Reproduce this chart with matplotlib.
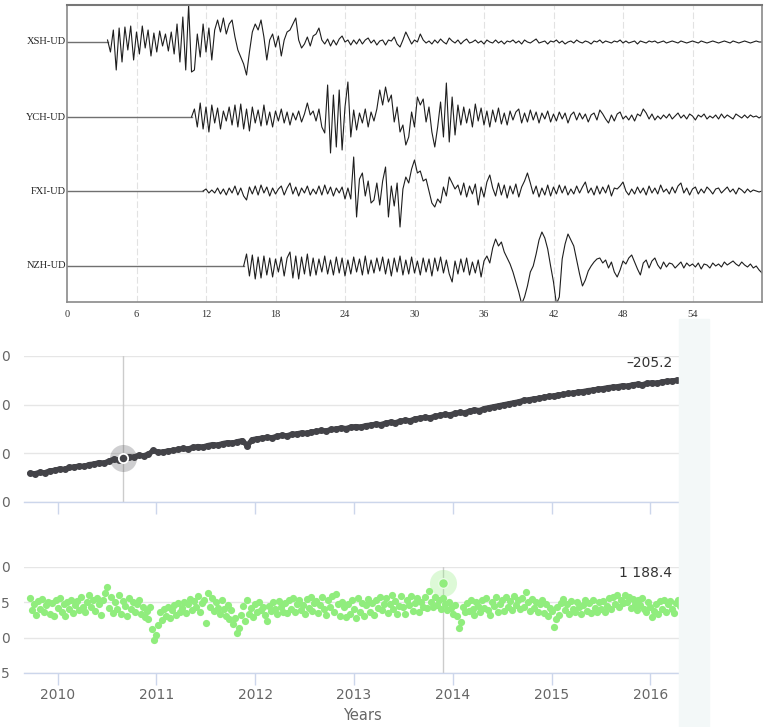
import numpy as np
import matplotlib
matplotlib.use("Agg")
import matplotlib.pyplot as plt
from matplotlib.patches import Rectangle

# ---------------- seismogram data (amplitudes in px) ----------------
dt = 0.25
stations = ["XSH-UD", "YCH-UD", "FXI-UD", "NZH-UD"]
baselines = [260, 185, 111, 36]          # trace centre lines
onsets = [3.5, 10.75, 11.75, 15.25]      # first arrival (s)

xsh = [2, -10, 12, -28, 14, -20, 15, -8,
       16, -18, 10, -12, 16, -6, 12, -14,
       9, -10, 11, -4, 8, -9, 10, -12,
       18, -20, 25, -28, 37, -30, -28, 8,
       -15, 18, -10, 14, -18, 12, 22, 10,
       24, 8, 18, 22, 5, -8, -15, -22,
       -33, -10, 10, 18, 12, 22, 5, -18,
       2, 8, -5, 6, -14, 2, 10, 12,
       18, 24, 2, -6, -2, 5, -4, 6,
       8, 14, 2, -2, 3, -4, 2, -3,
       3, 6, 0, 2, -3, 2, -2, 3,
       -2, 2, 4, -1, 2, -3, 1, 2,
       -3, 2, 1, 5, -2, -5, 2, 10,
       4, -2, 2, 0, 8, 2, -1, 1,
       -2, 2, -1, 3, 0, -2, 4, 1,
       -1, 2, -2, 1, 3, -1, 0, 2,
       -1, 1, -2, 2, 0, -1, 2, -1,
       1, -2, 1, 0, 2, -1, 1, -2,
       2, 0, -1, 1, 3, -1, 0, 1,
       -2, 1, 0, 2, -1, 1, -2, 0,
       1, -1, 2, 0, -1, 1, 0, -2,
       1, 0, 2, -1, 1, 0, -1, 1,
       0, 2, -1, 1, -1, 0, 1, -2,
       1, 0, -1, 1, 0, 1, -1, 0,
       1, -1, 0, 1, 0, -1, 1, 0,
       -1, 0, 1, 0, -1, 1, 0, -1,
       0, 1, 0, -1, 0, 1, 0, -1,
       1, 0, -1, 0, 1, 0, -1, 0,
       1, 0, 0]

ych = [0, 8, -10, 14, -12, 10, -15, 12,
       -6, 9, -12, 6, -4, 10, -8, 12,
       -10, 13, -12, 8, -14, 10, -6, 7,
       -9, 12, -8, 5, -10, 6, -4, 8,
       -6, 5, -8, 4, -3, 6, -5, 3,
       14, 2, 6, -4, 8, -10, -16, 32,
       -36, 22, -30, 27, -33, 10, 35, -20,
       7, -13, 4, -6, 8, -10, 5, -4,
       8, 27, 12, 30, 15, 22, -5, 10,
       -15, -8, -28, -20, 5, -10, 20, 12,
       18, -5, 10, -15, -30, -10, 15, -20,
       34, -25, 20, -18, 12, -8, 10, -6,
       8, -10, 13, -4, 9, -8, 6, -10,
       7, -5, 9, -7, 4, -8, 6, -3,
       5, 8, -6, 4, -5, 7, -3, 5,
       -6, 4, -2, 6, -5, 3, -4, 5,
       -2, 4, -6, 2, 5, -3, 4, -2,
       3, -5, 2, 4, -3, 7, 3, -2,
       -6, 2, -4, 3, 5, -2, 1, -3,
       2, -4, 3, 1, 8, 4, -2, 3,
       -3, 1, -2, 2, -1, 3, -2, 1,
       4, -1, 2, -2, 3, 1, -3, 2,
       0, 3, -2, 1, -1, 2, -2, 3,
       -1, 2, 0, -2, 3, 1, -1, 2,
       -1, 2, 0, 1, -1, 1]

fxi = [0, 2, -2, 1, -2, 3, -3, 2,
       -4, 3, -2, 5, -4, 3, -5, -9,
       4, -3, 5, -4, 6, -2, 4, -5,
       3, -3, 2, 5, -4, 3, 8, -3,
       4, -5, 3, -2, 5, -4, 2, -3,
       5, -4, 6, -3, 4, -5, 3, -2,
       4, -8, 3, -8, 34, -26, 12, 18,
       -5, 10, -12, -9, 8, -14, 10, 24,
       -26, 5, -15, 8, -36, 2, 14, 8,
       22, 31, 18, 20, 10, 12, 0, -12,
       -16, -8, -12, 4, -5, 14, 8, 2,
       6, -4, 8, -6, 5, -3, 7, -14,
       4, -6, 9, 16, 3, -5, 8, -4,
       6, -7, 5, -3, 7, -6, 4, 10,
       18, 8, -3, 5, -6, 3, -4, 6,
       -5, 4, -3, 6, -2, 5, -4, 2,
       -3, 5, -2, 4, 9, -2, 3, -4,
       5, -3, 4, -2, 6, -5, 3, 2,
       5, 9, 0, -4, 2, -3, 4, -2,
       3, -4, 5, -2, 3, -3, 6, -1,
       2, -3, 4, -2, 5, 8, -2, 3,
       -4, 2, 4, -3, 2, -2, 4, 1,
       -3, 2, 3, -2, 1, 4, -1, 2,
       -3, 3, 1, -2, 2, -1, 1, 0,
       -1, 0]

nzh = [0, 12, -10, 11, -13, 9, -12, 10,
       -9, 8, -11, 7, -6, 9, -10, 8,
       14, -12, 10, -13, 9, -8, 12, -10,
       8, -9, 7, -6, 10, -8, 6, -9,
       9, -7, 8, -10, 6, -8, 9, -6,
       7, -9, 10, -8, 6, -7, 8, -5,
       9, -8, 7, -10, 8, -6, 10, -9,
       6, -8, 9, -7, 5, -9, 8, -6,
       7, -10, 8, -5, 9, -7, 6, -8,
       -16, 5, -8, 7, -6, 8, -9, 4,
       -7, 6, -11, 5, 10, 3, 18, 27,
       20, 24, 14, 8, 2, -6, -16, -26,
       -38, -31, -20, -6, 0, 12, 26, 34,
       28, 17, 0, -16, -38, -31, 7, 22,
       32, 26, 20, 6, -8, -20, -14, -5,
       0, 4, 7, 8, 3, 6, -2, 4,
       -6, -11, -4, 5, 2, 8, 11, 4,
       -3, -9, 3, 6, -2, 5, 8, 1,
       -3, 4, -1, 3, 2, -2, 1, 4,
       -2, 3, 0, 2, -1, 3, -3, 2,
       1, -2, 3, 0, 2, -1, 4, 1,
       3, 5, 2, 0, 4, 1, -1, 2,
       -2, 0, -4, -7]

traces = [xsh, ych, fxi, nzh]
sec_ticks = [0, 6, 12, 18, 24, 30, 36, 42, 48, 54]

# ---------------- time series data ----------------
line_start, line_step = 2009.72, 0.05
line_vals = [-224.1, -224.2, -223.9, -224.0, -223.6, -223.5, -223.2, -223.3, -222.9, -222.8,
             -222.6, -222.7, -222.3, -222.2, -221.9, -222.0, -221.6, -221.2, -221.4, -221.0,
             -220.7, -220.8, -220.4, -220.5, -220.2, -219.4, -219.8, -219.7, -219.5, -219.4,
             -219.2, -219.0, -219.1, -218.8, -218.6, -218.7, -218.4, -218.2, -218.3, -218.0,
             -217.8, -217.9, -217.6, -217.4, -218.4, -217.2, -217.0, -216.9, -216.7, -216.8,
             -216.5, -216.3, -216.4, -216.1, -216.0, -215.8, -215.9, -215.6, -215.5, -215.3,
             -215.4, -215.1, -215.0, -214.8, -214.9, -214.6, -214.5, -214.6, -214.3, -214.2,
             -214.0, -214.1, -213.8, -213.6, -213.7, -213.4, -213.2, -213.3, -212.9, -212.8,
             -212.6, -212.7, -212.4, -212.2, -212.0, -212.1, -211.8, -211.6, -211.7, -211.3,
             -211.1, -211.2, -210.8, -210.6, -210.4, -210.2, -210.0, -209.8, -209.6, -209.4,
             -209.1, -209.0, -208.8, -208.7, -208.5, -208.3, -208.2, -208.0, -207.9, -207.7,
             -207.6, -207.4, -207.3, -207.1, -207.0, -206.8, -206.7, -206.5, -206.4, -206.3,
             -206.1, -206.2, -205.9, -205.8, -205.9, -205.6, -205.5, -205.6, -205.3, -205.2,
             -205.1, -205.0]

dots_start, dots_step = 2009.72, 0.02
dots_vals = [1185.6, 1183.9, 1184.8, 1183.2, 1185.2, 1184.1, 1185.5, 1183.6, 1184.6, 1185.0,
             1183.4, 1184.9, 1183.0, 1185.3, 1184.2, 1185.6, 1183.7, 1184.8, 1183.1, 1185.0,
             1184.0, 1185.4, 1183.5, 1184.6, 1185.2, 1183.9, 1185.7, 1184.3, 1183.6, 1185.1,
             1186.0, 1184.4, 1185.3, 1183.8, 1185.6, 1184.7, 1183.2, 1185.4, 1186.3, 1187.1,
             1184.2, 1185.8, 1183.5, 1185.0, 1184.1, 1186.1, 1183.4, 1185.2, 1184.5, 1183.1,
             1185.6, 1184.0, 1185.1, 1183.6, 1184.7, 1185.4, 1183.3, 1184.4, 1182.9, 1183.8,
             1182.6, 1184.3, 1181.2, 1179.7, 1180.4, 1181.8, 1183.6, 1182.5, 1184.1, 1183.0,
             1184.4, 1182.8, 1183.9, 1184.6, 1183.2, 1184.9, 1183.7, 1184.2, 1185.0, 1183.5,
             1184.8, 1185.5, 1183.9, 1185.2, 1184.3, 1185.9, 1183.6, 1184.9, 1185.4, 1182.1,
             1186.3, 1184.4, 1185.6, 1183.8, 1185.1, 1184.2, 1183.4, 1185.3, 1184.0, 1183.1,
             1184.6, 1182.6, 1183.9, 1181.9, 1182.8, 1180.7, 1181.4, 1183.2, 1184.5, 1182.4,
             1185.4, 1183.3, 1184.2, 1182.9, 1184.8, 1183.6, 1185.1, 1183.9, 1184.4, 1183.2,
             1182.3, 1184.5, 1183.8, 1185.0, 1184.1, 1183.4, 1185.2, 1184.3, 1183.7, 1184.9,
             1183.5, 1185.3, 1184.0, 1185.6, 1183.7, 1184.8, 1185.4, 1183.9, 1184.6, 1183.3,
             1185.5, 1184.2, 1185.8, 1183.8, 1184.9, 1185.2, 1183.5, 1184.6, 1185.7, 1184.0,
             1183.2, 1185.3, 1184.4, 1185.9, 1183.6, 1186.2, 1184.7, 1183.1, 1185.0, 1184.3,
             1182.9, 1184.8, 1183.4, 1185.4, 1184.1, 1182.8, 1185.6, 1183.7, 1184.9, 1183.0,
             1184.6, 1185.5, 1183.6, 1184.9, 1183.2, 1185.3, 1184.2, 1185.8, 1183.9, 1184.7,
             1185.6, 1183.5, 1184.8, 1186.0, 1184.1, 1185.2, 1183.4, 1184.5, 1185.9, 1184.3,
             1183.3, 1185.4, 1184.6, 1185.9, 1183.8, 1184.9, 1185.6, 1183.6, 1185.1, 1184.4,
             1185.8, 1184.2, 1186.6, 1185.0, 1184.4, 1185.7, 1184.6, 1185.3, 1184.0, 1185.6,
             1184.8, 1183.9, 1185.1, 1184.2, 1183.4, 1184.6, 1183.0, 1181.4, 1182.2, 1184.3,
             1183.6, 1184.9, 1183.8, 1185.4, 1184.1, 1183.2, 1185.0, 1184.5, 1183.7, 1185.3,
             1184.2, 1185.6, 1183.9, 1183.2, 1185.1, 1184.5, 1185.8, 1183.6, 1184.8, 1185.4,
             1183.8, 1185.7, 1184.3, 1185.2, 1183.9, 1185.9, 1184.6, 1185.3, 1184.0, 1185.6,
             1184.4, 1186.4, 1185.0, 1183.8, 1185.5, 1184.2, 1185.1, 1183.6, 1184.8, 1185.4,
             1183.5, 1184.7, 1183.1, 1184.2, 1183.8, 1181.5, 1182.6, 1184.4, 1183.2, 1184.9,
             1185.5, 1183.9, 1184.7, 1183.4, 1185.2, 1184.1, 1183.6, 1185.0, 1184.4, 1183.3,
             1184.6, 1185.3, 1183.8, 1184.9, 1183.5, 1185.4, 1184.2, 1183.7, 1185.1, 1184.0,
             1185.2, 1183.6, 1184.5, 1185.6, 1184.0, 1185.8, 1184.7, 1186.0, 1184.3, 1185.4,
             1184.9, 1186.1, 1185.0, 1185.7, 1184.2, 1185.5, 1184.8, 1183.9, 1185.3, 1184.6,
             1185.6, 1184.1, 1183.6, 1185.0, 1184.4, 1182.9, 1183.8, 1184.7, 1183.3, 1185.2,
             1184.0, 1185.4, 1183.7, 1184.8, 1185.2, 1184.1, 1183.5, 1184.9, 1185.3, 1184.5]

years = [2010, 2011, 2012, 2013, 2014, 2015, 2016]
top_ticks = [-230, -220, -210, -200]
bot_ticks = [1175, 1180, 1185, 1190]
# only the last digit of each y label is visible in the cropped picture
top_tick_text = ["0", "0", "0", "0"]
bot_tick_text = ["5", "0", "5", "0"]
hover_top = (2010.66, -221.0)
hover_bot = (2013.90, 1187.7)
label_top = "\u2013205.2"
label_bot = "1 188.4"

W, H = 769, 727
fig = plt.figure(figsize=(W / 100, H / 100), dpi=100)


def box(l, t, r, b):
    return [l / W, 1 - b / H, (r - l) / W, (b - t) / H]


# light strip on the right
fig.patches.append(Rectangle((679 / W, 0), 30 / W, (H - 319) / H, transform=fig.transFigure,
                             color="#f3f8f8", zorder=0))

# ---------------- seismogram panel ----------------
ax = fig.add_axes(box(67, 5, 762, 302))
for name, base, t0, vals in zip(stations, baselines, onsets, traces):
    t = t0 + dt * np.arange(len(vals))
    ax.plot([0, t0], [base, base], color="#707070", lw=1.0)
    ax.plot(t, base + np.array(vals), color="#1e1e1e", lw=0.8)
    ax.text(-0.1, base, name, ha="right", va="center", fontsize=7.5,
            family="Liberation Serif", color="#222", clip_on=False)
ax.set_xlim(0, 60)
ax.set_ylim(0, 297)
ax.set_xticks(sec_ticks)
ax.set_yticks([])
for s in sec_ticks[1:]:
    ax.axvline(s, color="#e2e2e2", lw=0.8, ls=(0, (6, 2.5)), zorder=0)
ax.tick_params(axis="x", length=0, pad=6, labelsize=7.5, labelcolor="#333")
for lab in ax.get_xticklabels():
    lab.set_family("Liberation Serif")
for side in ["left", "bottom", "right"]:
    ax.spines[side].set_color("#8a8a8a")
    ax.spines[side].set_linewidth(1.2)
ax.spines["top"].set_color("#777777")
ax.spines["top"].set_linewidth(1.5)

# ---------------- highcharts-like panels ----------------
grid_c, axis_c, txt_c = "#e6e6e6", "#ccd6eb", "#666666"


def style(a, ticks, tick_text):
    a.set_yticks(ticks)
    a.set_yticklabels(tick_text)
    a.yaxis.grid(True, color=grid_c, lw=1)
    a.set_axisbelow(True)
    for side in ["left", "right", "top"]:
        a.spines[side].set_visible(False)
    a.spines["bottom"].set_color(axis_c)
    a.spines["bottom"].set_linewidth(1)
    a.tick_params(axis="y", length=0, pad=10.5, labelsize=10, labelcolor=txt_c)
    a.tick_params(axis="x", length=8.6, width=1, color=axis_c, direction="out",
                  pad=2, labelsize=10, labelcolor=txt_c)
    a.set_xticks(years)
    a.set_xlim(2009.66, 2016.29)


ax1 = fig.add_axes(box(24, 356, 679, 502))
lx = line_start + line_step * np.arange(len(line_vals))
ax1.plot(lx, line_vals, color="#434348", lw=3.8, marker="o", ms=4, solid_capstyle="round")
ax1.set_ylim(-230, -200)
style(ax1, top_ticks, top_tick_text)
ax1.set_xticklabels([])
ax1.axvline(hover_top[0], color="#cccccc", lw=1, zorder=1)
ax1.scatter(*hover_top, s=380, color="#434348", alpha=0.25, lw=0, zorder=4, clip_on=False)
ax1.scatter(*hover_top, s=45, color="#434348", edgecolor="white", lw=1.3, zorder=5)
ax1.text(0.99, 0.952, label_top, transform=ax1.transAxes, ha="right", va="center",
         fontsize=10, color="#333333")

ax2 = fig.add_axes(box(24, 567, 679, 673))
dx = dots_start + dots_step * np.arange(len(dots_vals))
ax2.scatter(dx, dots_vals, s=27, color="#90ed7d", lw=0, zorder=3)
ax2.set_ylim(1175, 1190)
style(ax2, bot_ticks, bot_tick_text)
ax2.set_xticklabels([str(y) for y in years])
ax2.axvline(hover_bot[0], color="#cccccc", lw=1, zorder=2)
ax2.scatter(*hover_bot, s=380, color="#90ed7d", alpha=0.3, lw=0, zorder=4, clip_on=False)
ax2.scatter(*hover_bot, s=50, color="#90ed7d", edgecolor="#e8fbe4", lw=1, zorder=5)
ax2.text(0.99, 0.943, label_bot, transform=ax2.transAxes, ha="right", va="center",
         fontsize=10, color="#333333")

fig.text(362 / W, 1 - 716 / H, "Years", ha="center", va="center", fontsize=10.5, color=txt_c)

fig.savefig("out.png", dpi=100)
